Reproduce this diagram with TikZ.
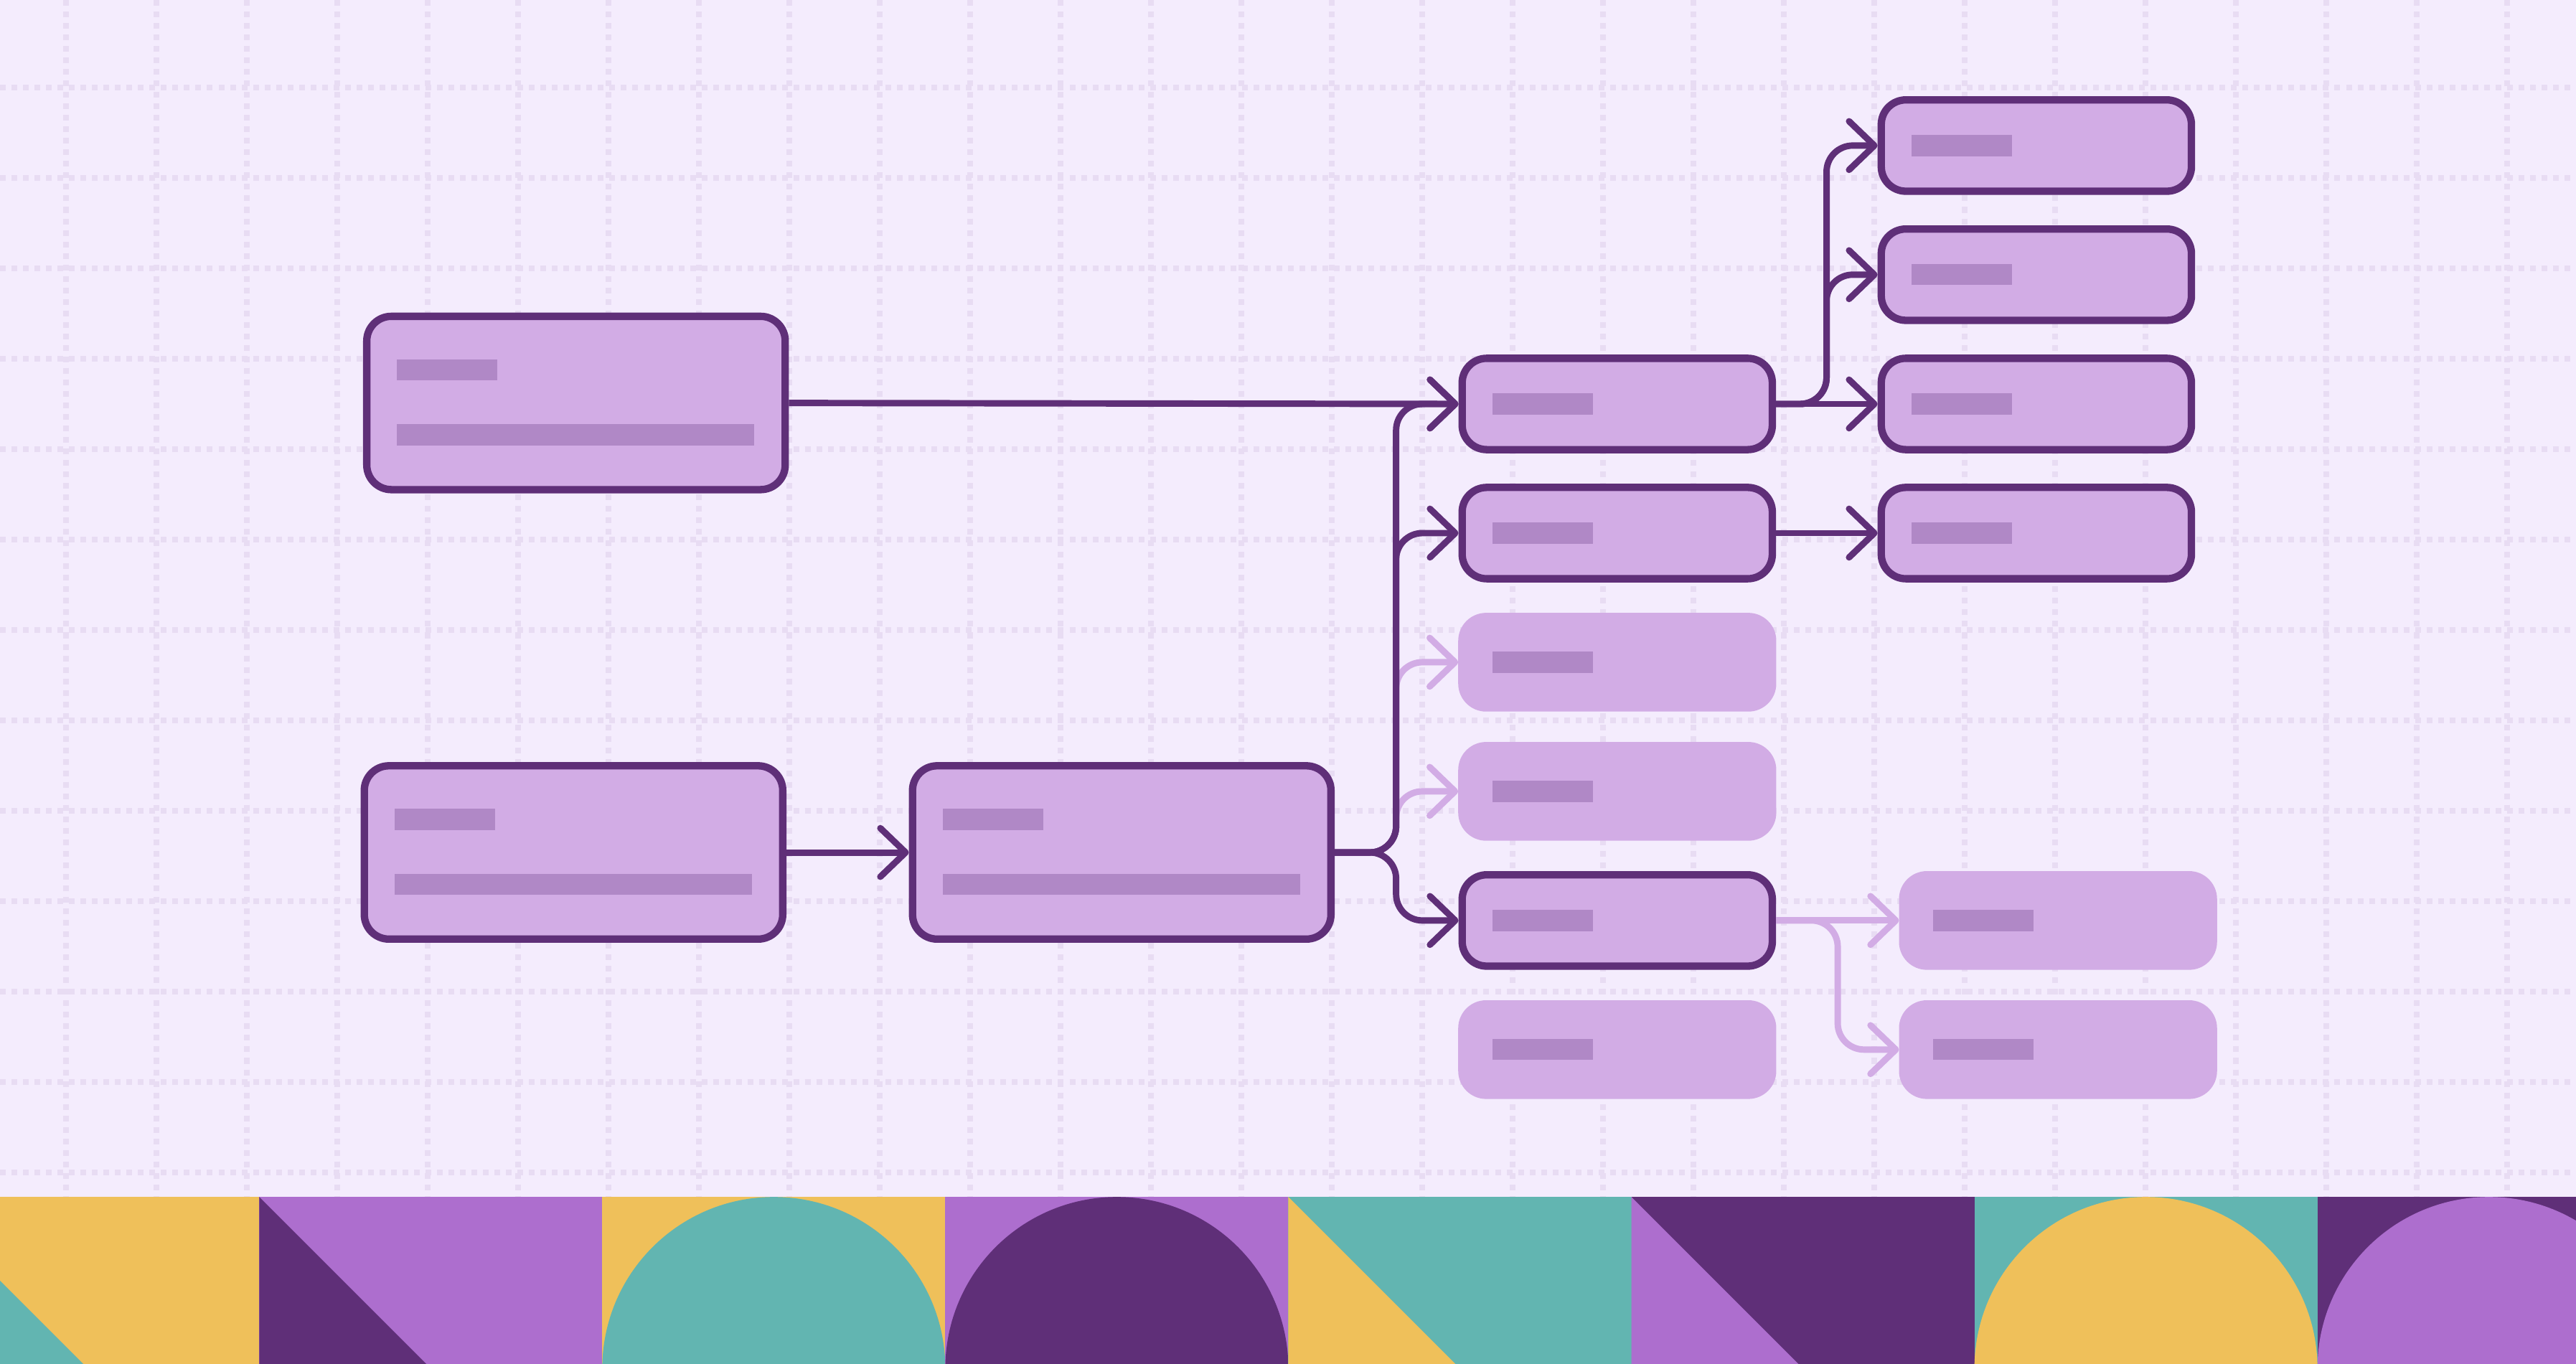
\documentclass[tikz,border=0pt]{standalone}
\usetikzlibrary{arrows.meta,calc}
\definecolor{bgc}{HTML}{F4ECFD}
\definecolor{gridc}{HTML}{E8DCF3}
\definecolor{boxc}{HTML}{D2ACE5}
\definecolor{dk}{HTML}{5F2F78}
\definecolor{barc}{HTML}{B088C6}
\definecolor{yel}{HTML}{EFC05A}
\definecolor{tea}{HTML}{62B5B1}
\definecolor{pur}{HTML}{AD6ECE}
\newcommand\mkbar[4]{\fill[barc] ($(#1.west)+(#2,#3)$) rectangle ++(#4,12.8);}
\begin{document}
\begin{tikzpicture}[x=1pt,y=-1pt,
  box/.style={draw=dk, line width=4.5pt, fill=boxc, rounded corners=15pt, inner sep=0pt},
  bigbox/.style={box, minimum width=254.7pt, minimum height=105.5pt},
  smallbox/.style={box, minimum width=188.8pt, minimum height=55.6pt},
  ghostbox/.style={fill=boxc, rounded corners=17pt, inner sep=0pt, outer sep=0pt, minimum width=193.6pt, minimum height=60.1pt},
  conn/.style={draw=dk, line width=3.9pt, rounded corners=16pt, -{Straight Barb[round, length=15.4pt, width=29.6pt]}},
  fconn/.style={conn, draw=boxc},
  gridline/.style={draw=gridc, line width=3.3pt, dash pattern=on 3.5pt off 3.5pt},
]
\useasboundingbox (0,0) rectangle (1568,830);
\clip (0,0) rectangle (1568,830);
\fill[bgc] (0,0) rectangle (1568,830);
% grid
\foreach \k in {0,...,27} \draw[gridline] ({40.2+55.03*\k},0) -- ({40.2+55.03*\k},728.6);
\foreach \k in {0,...,12} \draw[gridline] (0,{53.3+55.03*\k}) -- (1568,{53.3+55.03*\k});
% bottom strip
\fill[yel] (-51,728.6) rectangle (158.3,937.4);
\fill[tea] (-51,728.6) -- (-51,937.4) -- (157.8,937.4) -- cycle;
\fill[pur] (157.8,728.6) rectangle (367.1,937.4);
\fill[dk] (157.8,728.6) -- (157.8,937.4) -- (366.6,937.4) -- cycle;
\fill[yel] (366.6,728.6) rectangle (575.9,937.4);
\fill[tea] (471,833) circle (104.4pt);
\fill[pur] (575.4,728.6) rectangle (784.7,937.4);
\fill[dk] (679.8,833) circle (104.4pt);
\fill[tea] (784.2,728.6) rectangle (993.5,937.4);
\fill[yel] (784.2,728.6) -- (784.2,937.4) -- (993,937.4) -- cycle;
\fill[dk] (993,728.6) rectangle (1202.3,937.4);
\fill[pur] (993,728.6) -- (993,937.4) -- (1201.8,937.4) -- cycle;
\fill[tea] (1201.8,728.6) rectangle (1411.1,937.4);
\fill[yel] (1306.2,833) circle (104.4pt);
\fill[dk] (1410.6,728.6) rectangle (1620,937.4);
\fill[pur] (1515,833) circle (104.4pt);
% nodes
\node[bigbox] (A) at (350.6,245.3) {};
\node[bigbox] (B) at (349.1,518.9) {};
\node[bigbox] (C) at (682.8,518.9) {};
\node[smallbox] (D1) at (984.4,245.9) {};
\node[smallbox] (D2) at (984.4,324.5) {};
\node[ghostbox] (D3) at (984.4,403.1) {};
\node[ghostbox] (D4) at (984.4,481.7) {};
\node[smallbox] (D5) at (984.4,560.3) {};
\node[ghostbox] (D6) at (984.4,638.9) {};
\node[smallbox] (E1) at (1239.5,88.6) {};
\node[smallbox] (E2) at (1239.5,167.2) {};
\node[smallbox] (E3) at (1239.5,245.9) {};
\node[smallbox] (E4) at (1239.5,324.5) {};
\node[ghostbox] (F1) at (1252.7,560.3) {};
\node[ghostbox] (F2) at (1252.7,638.9) {};
% bars
\foreach \n in {A,B,C} {
  \mkbar{\n}{20.6}{-26.5}{61.2}
  \mkbar{\n}{20.6}{13}{217.6}
}
\foreach \n in {D1,D2,D3,D4,D5,D6,E1,E2,E3,E4,F1,F2} {
  \mkbar{\n}{20.7}{-6.4}{61.2}
}
% trunk points
\coordinate (t1) at (849.8,518.9);
\coordinate (t2) at (1111.8,245.9);
\coordinate (t3) at (1118.6,560.3);
% connectors
\draw[fconn] (C.east) -- (t1) -- (t1 |- D3.west) -- (D3.west);
\draw[fconn] (C.east) -- (t1) -- (t1 |- D4.west) -- (D4.west);
\draw[conn] (C.east) -- (t1) -- (t1 |- D1.west) -- (D1.west);
\draw[conn] (C.east) -- (t1) -- (t1 |- D2.west) -- (D2.west);
\draw[conn] (C.east) -- (t1) -- (t1 |- D5.west) -- (D5.west);
\draw[conn] (A.east) -- (D1.west);
\draw[conn] (B.east) -- (C.west);
\draw[conn] (D1.east) -- (E3.west);
\draw[conn] (D1.east) -- (t2) -- (t2 |- E1.west) -- (E1.west);
\draw[conn] (D1.east) -- (t2) -- (t2 |- E2.west) -- (E2.west);
\draw[conn] (D2.east) -- (E4.west);
\draw[fconn] (D5.east) -- (F1.west);
\draw[fconn] (D5.east) -- (t3) -- (t3 |- F2.west) -- (F2.west);
\end{tikzpicture}
\end{document}
